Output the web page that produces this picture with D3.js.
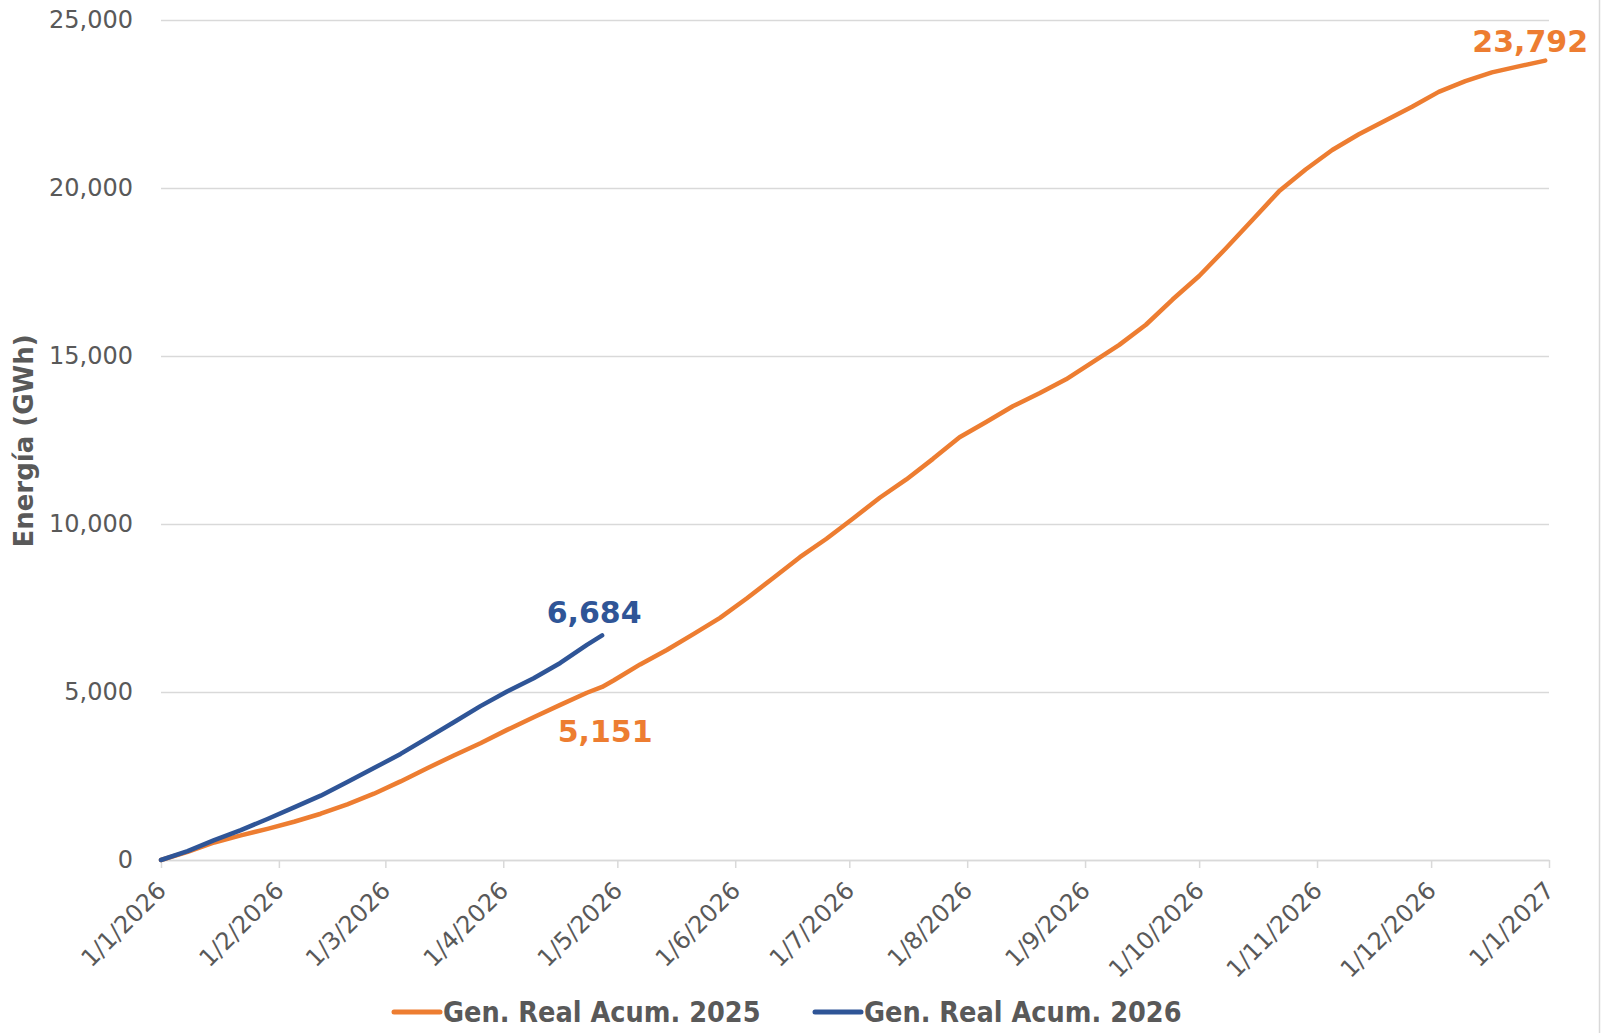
<!DOCTYPE html>
<html lang="es">
<head>
    <meta charset="UTF-8">
    <title>Generación Real Acumulada</title>
    <script src="https://d3js.org/d3.v7.min.js"></script>
    <style>
        body { margin: 0; background: #fff; overflow: hidden; }
        svg { display: block; }
        text { font-family: 'DejaVu Sans', Verdana, sans-serif; fill: #595959; }
    </style>
</head>
<body>
    <div id="chart"></div>

    <script>
        // Weekly cumulative energy (GWh)
        const dates2025 = [
            '2026-01-01', '2026-01-08', '2026-01-15', '2026-01-22', '2026-01-29', '2026-02-05', '2026-02-12',
            '2026-02-19', '2026-02-26', '2026-03-05', '2026-03-12', '2026-03-19', '2026-03-26', '2026-04-02',
            '2026-04-09', '2026-04-16', '2026-04-23', '2026-04-27', '2026-04-30', '2026-05-07', '2026-05-14',
            '2026-05-21', '2026-05-28', '2026-06-04', '2026-06-11', '2026-06-18', '2026-06-25', '2026-07-02',
            '2026-07-09', '2026-07-16', '2026-07-23', '2026-07-30', '2026-08-06', '2026-08-13', '2026-08-20',
            '2026-08-27', '2026-09-03', '2026-09-10', '2026-09-17', '2026-09-24', '2026-10-01', '2026-10-08',
            '2026-10-15', '2026-10-22', '2026-10-29', '2026-11-05', '2026-11-12', '2026-11-19', '2026-11-26',
            '2026-12-03', '2026-12-10', '2026-12-17', '2026-12-24', '2026-12-31'
        ];
        const values2025 = [
            0, 240, 521, 733, 928, 1139, 1377,
            1657, 1974, 2339, 2732, 3110, 3476, 3873,
            4251, 4617, 4978, 5151, 5341, 5821, 6251,
            6724, 7208, 7784, 8391, 9012, 9561, 10165,
            10781, 11327, 11939, 12584, 13037, 13506, 13890,
            14307, 14820, 15330, 15930, 16680, 17380, 18200,
            19050, 19900, 20550, 21130, 21600, 22010, 22420,
            22860, 23180, 23440, 23620, 23792
        ];
        const dates2026 = [
            '2026-01-01', '2026-01-08', '2026-01-15', '2026-01-22', '2026-01-29', '2026-02-05', '2026-02-12',
            '2026-02-19', '2026-02-26', '2026-03-05', '2026-03-12', '2026-03-19', '2026-03-26', '2026-04-02',
            '2026-04-09', '2026-04-16', '2026-04-23', '2026-04-27'
        ];
        const values2026 = [
            0, 265, 592, 889, 1220, 1568, 1915,
            2323, 2735, 3157, 3628, 4099, 4579, 5013,
            5410, 5865, 6403, 6684
        ];

        const seriesNames = ['Gen. Real Acum. 2025', 'Gen. Real Acum. 2026'];
        const seriesColors = ['#ED7D31', '#2F5597'];

        // Month ticks on the x axis
        const monthTicks = [
            '2026-01-01', '2026-02-01', '2026-03-01', '2026-04-01', '2026-05-01', '2026-06-01', '2026-07-01',
            '2026-08-01', '2026-09-01', '2026-10-01', '2026-11-01', '2026-12-01', '2027-01-01'
        ];
        const monthLabels = [
            '1/1/2026', '1/2/2026', '1/3/2026', '1/4/2026', '1/5/2026', '1/6/2026', '1/7/2026',
            '1/8/2026', '1/9/2026', '1/10/2026', '1/11/2026', '1/12/2026', '1/1/2027'
        ];
        const yTicks = [0, 5000, 10000, 15000, 20000, 25000];

        // Value callouts
        const calloutDates = ['2026-12-31', '2026-04-27', '2026-04-27'];
        const calloutValues = [23792, 6684, 5151];
        const calloutSeries = [0, 1, 0];

        const width = 1606;
        const height = 1033;
        const plot = { left: 161, right: 1549, top: 20, bottom: 860 };

        const parse = d3.timeParse('%Y-%m-%d');
        const fmt = d3.format(',');

        const x = d3.scaleTime()
            .domain([parse('2026-01-01'), parse('2027-01-01')])
            .range([plot.left, plot.right]);
        const y = d3.scaleLinear()
            .domain([0, 25000])
            .range([plot.bottom, plot.top]);

        const svg = d3.select('#chart')
            .append('svg')
            .attr('width', width)
            .attr('height', height);

        // frame line on the right edge
        svg.append('line')
            .attr('x1', 1599.5).attr('x2', 1599.5)
            .attr('y1', 0).attr('y2', height)
            .style('stroke', '#d9d9d9')
            .style('stroke-width', 1.5);

        // y axis with gridlines
        const yAxis = svg.append('g')
            .attr('transform', `translate(${plot.left},0)`)
            .call(d3.axisLeft(y)
                .tickValues(yTicks)
                .tickSize(-(plot.right - plot.left))
                .tickPadding(28)
                .tickFormat(fmt));
        yAxis.select('.domain').remove();
        yAxis.selectAll('line')
            .style('stroke', '#d9d9d9')
            .style('stroke-width', 1.5);
        yAxis.selectAll('text')
            .style('font-size', '24px')
            .style('fill', '#595959');

        // x axis
        const xAxis = svg.append('g')
            .attr('transform', `translate(0,${plot.bottom})`)
            .call(d3.axisBottom(x)
                .tickValues(monthTicks.map(parse))
                .tickSize(8)
                .tickSizeOuter(0)
                .tickFormat((d, i) => monthLabels[i]));
        xAxis.select('.domain')
            .style('stroke', '#d9d9d9')
            .style('stroke-width', 1.5);
        xAxis.selectAll('line')
            .style('stroke', '#d9d9d9')
            .style('stroke-width', 1.5);
        xAxis.selectAll('text')
            .style('font-size', '24px')
            .style('fill', '#595959')
            .attr('text-anchor', 'end')
            .attr('x', 0)
            .attr('y', 0)
            .attr('dy', 0)
            .attr('transform', 'translate(6,32) rotate(-45)');

        // axis title
        svg.append('text')
            .attr('transform', 'translate(33,441) rotate(-90)')
            .attr('text-anchor', 'middle')
            .style('font-size', '26px')
            .style('font-weight', 'bold')
            .text('Energía (GWh)');

        // lines
        const line = d3.line()
            .x(d => x(d.date))
            .y(d => y(d.value));

        const series = [
            dates2025.map((d, i) => ({ date: parse(d), value: values2025[i] })),
            dates2026.map((d, i) => ({ date: parse(d), value: values2026[i] }))
        ];

        svg.selectAll('.series')
            .data(series)
            .enter()
            .append('path')
            .attr('class', 'series')
            .attr('d', line)
            .style('fill', 'none')
            .style('stroke', (d, i) => seriesColors[i])
            .style('stroke-width', 4.5)
            .style('stroke-linejoin', 'round')
            .style('stroke-linecap', 'round');

        // callouts
        const calloutOffsets = [[-15, -9], [-8, -12], [3, 55]];
        svg.selectAll('.callout')
            .data(calloutValues)
            .enter()
            .append('text')
            .attr('class', 'callout')
            .attr('x', (d, i) => x(parse(calloutDates[i])) + calloutOffsets[i][0])
            .attr('y', (d, i) => y(d) + calloutOffsets[i][1])
            .attr('text-anchor', 'middle')
            .style('font-size', '30px')
            .style('font-weight', 'bold')
            .style('fill', (d, i) => seriesColors[calloutSeries[i]])
            .text(d => fmt(d));

        // legend
        const legendX = [394, 815];
        const legend = svg.selectAll('.legend')
            .data(seriesNames)
            .enter()
            .append('g')
            .attr('class', 'legend')
            .attr('transform', (d, i) => `translate(${legendX[i]},1012)`);
        legend.append('line')
            .attr('x1', 0).attr('x2', 46)
            .style('stroke', (d, i) => seriesColors[i])
            .style('stroke-width', 5)
            .style('stroke-linecap', 'round');
        legend.append('text')
            .attr('x', 49)
            .attr('dy', '0.36em')
            .style('font-family', "'DejaVu Sans Condensed', 'DejaVu Sans', sans-serif")
            .style('font-size', '28.5px')
            .style('font-weight', 'bold')
            .text(d => d);
    </script>
</body>
</html>
